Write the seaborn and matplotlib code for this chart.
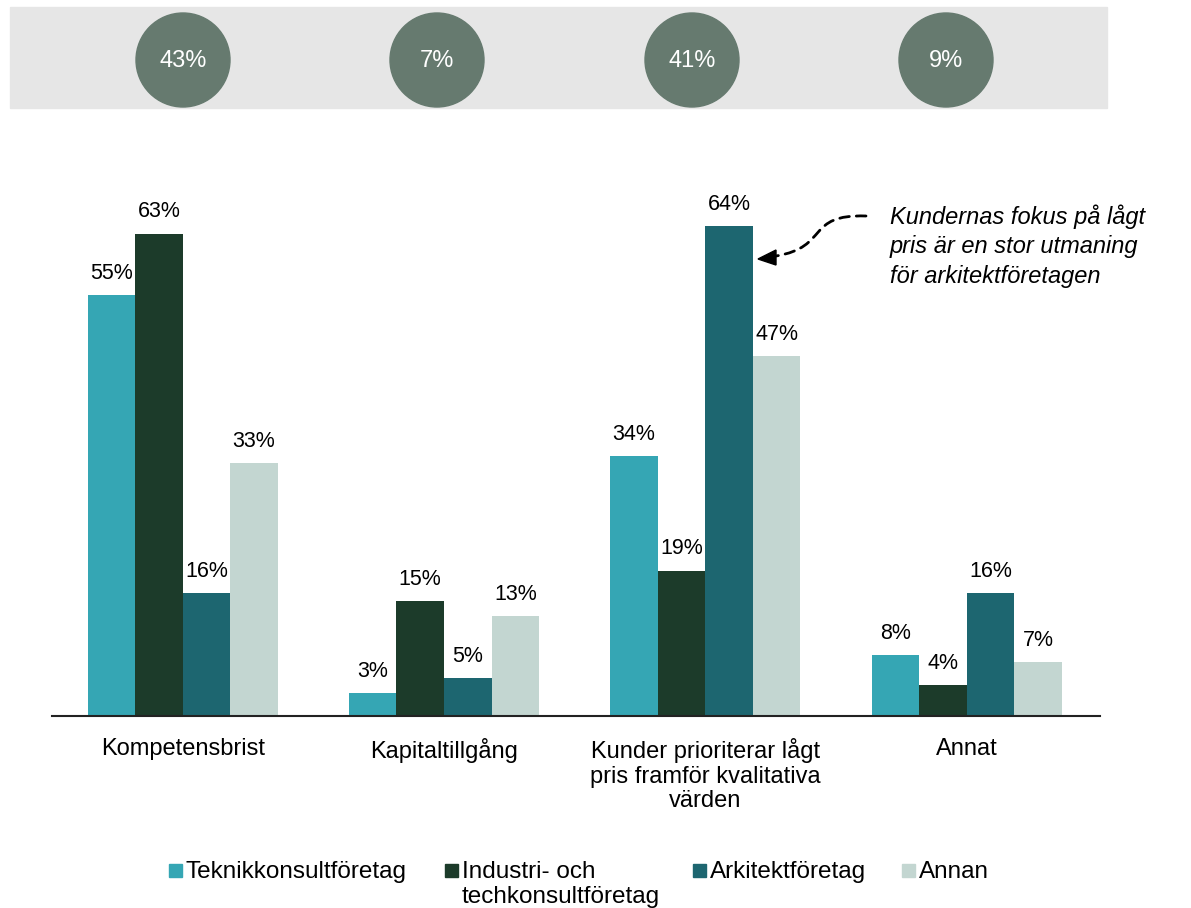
import pandas as pd
import numpy as np
import matplotlib
matplotlib.use('Agg')
import matplotlib.pyplot as plt
import seaborn as sns
from matplotlib.patches import Circle, Rectangle, FancyArrowPatch, Polygon
from matplotlib.path import Path

# data
categories = ['Kompetensbrist', 'Kapitaltillgång',
              'Kunder prioriterar lågt\npris framför kvalitativa\nvärden', 'Annat']
series = ['Teknikkonsultföretag', 'Industri- och\ntechkonsultföretag', 'Arkitektföretag', 'Annan']
teknik = [55, 3, 34, 8]
industri = [63, 15, 19, 4]
arkitekt = [16, 5, 64, 16]
annan = [33, 13, 47, 7]
totals = [43, 7, 41, 9]
colors = ['#35a6b4', '#1c3b2a', '#1d6670', '#c3d6d1']

rows = []
for s, vals in zip(series, [teknik, industri, arkitekt, annan]):
    for c, v in zip(categories, vals):
        rows.append({'cat': c, 'series': s, 'val': v})
df = pd.DataFrame(rows)

sns.set_style('white')
plt.rcParams['font.family'] = ['Liberation Sans', 'DejaVu Sans']
plt.rcParams['text.color'] = 'black'
plt.rcParams['xtick.color'] = 'black'

W, H = 1191, 908
fig = plt.figure(figsize=(W / 100, H / 100), dpi=100)

# overlay axes in pixel coords for band, circles, legend and arrow
top = fig.add_axes([0, 0, 1, 1])
top.set_xlim(0, W)
top.set_ylim(H, 0)
top.axis('off')
top.add_patch(Rectangle((10, 7), 1097, 101, color='#e6e6e6', zorder=0))
for cx, t in zip([183, 437, 692, 946], totals):
    top.add_patch(Circle((cx, 60), 47, color='#667a6f', zorder=1))
    top.text(cx, 61, f'{t}%', ha='center', va='center', color='white', fontsize=17, zorder=2)

ax = fig.add_axes([52 / W, (H - 716) / H, 1048 / W, 536 / H])
ax.patch.set_alpha(0)
sns.barplot(data=df, x='cat', y='val', hue='series', palette=colors, width=0.728,
            saturation=1, linewidth=0, ax=ax, legend=False)
ax.set_xlim(-0.5, 3.51)
ax.set_ylim(0, 70)
ax.set_xlabel('')
ax.set_ylabel('')
ax.set_yticks([])
for s in ['top', 'right', 'left']:
    ax.spines[s].set_visible(False)
ax.spines['bottom'].set_color('#222222')
ax.spines['bottom'].set_linewidth(1.5)
ax.tick_params(axis='x', length=0, labelsize=17, pad=16, labelcolor='black')
for lab in ax.get_xticklabels():
    lab.set_linespacing(1.15)

for cont in ax.containers:
    for bar in cont:
        h = bar.get_height()
        ax.annotate(f'{h:.0f}%', (bar.get_x() + bar.get_width() / 2, h),
                    xytext=(0, 8), textcoords='offset points',
                    ha='center', va='bottom', fontsize=15.5)

# annotation text and dashed arrow
top.text(890, 246, 'Kundernas fokus på lågt\npris är en stor utmaning\nför arkitektföretagen',
         ha='left', va='center', fontsize=17, style='italic', linespacing=1.35)
arrow_path = Path([(866, 216), (805, 214), (830, 247), (776, 256)],
                  [Path.MOVETO, Path.CURVE4, Path.CURVE4, Path.CURVE4])
top.add_patch(FancyArrowPatch(path=arrow_path, arrowstyle='-', color='black', lw=2,
                              linestyle=(0, (3.5, 2.5))))
top.add_patch(Polygon([(758, 259), (776, 250), (776, 265)], closed=True, color='black'))

# legend drawn by hand (first line of the two-line entry sits level with the others)
for hx, c, s in zip([169, 445, 693, 902], colors, series):
    top.add_patch(Rectangle((hx, 864), 13, 13, color=c))
    top.text(hx + 17, 861, s, ha='left', va='top', fontsize=17.5, linespacing=1.2)

fig.savefig('out.png', dpi=100)
